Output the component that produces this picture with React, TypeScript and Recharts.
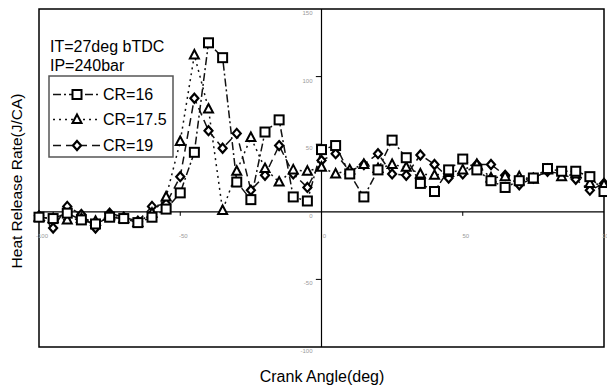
import React from "react";
import {
  LineChart,
  Line,
  XAxis,
  YAxis,
  ReferenceLine,
  ReferenceArea,
  ReferenceDot,
} from "recharts";

// crank angle (deg) and heat release rate (J/CA) per compression ratio
const crankAngle = [
  -100, -95, -90, -85, -80, -75, -70, -65, -60, -55, -50, -45, -40, -35, -30,
  -25, -20, -15, -10, -5, 0, 5, 10, 15, 20, 25, 30, 35, 40, 45, 50, 55, 60, 65,
  70, 75, 80, 85, 90, 95, 100,
];
const cr16 = [
  -4, -5, -1, -6, -9, -4, -5, -8, -4, 2, 14, 44, 125, 114, 22, 9, 59, 68, 11, 8,
  46, 49, 28, 11, 31, 53, 40, 21, 15, 31, 39, 31, 23, 18, 23, 25, 32, 30, 30,
  26, 15,
];
const cr175 = [
  -4, -5, -6, -5, -7, -3, -5, -8, -1, 11, 52, 116, 76, 1, 30, 55, 32, 22, 31,
  30, 33, 28, 31, 35, 32, 35, 33, 28, 27, 29, 31, 35, 25, 26, 26, 24, 31, 26,
  28, 21, 20,
];
const cr19 = [
  -3, -12, 4, -2, -12, -1, -4, -7, 4, 6, 26, 84, 60, 47, 58, 16, 27, 49, 28, 18,
  38, 43, 30, 35, 43, 28, 27, 42, 35, 25, 28, 35, 35, 27, 20, 25, 30, 28, 24,
  16, 21,
];
const xTicks = [-100, -50, 0, 50, 100];
const yTicks = [150, 100, 50, 0, -50, -100];

const data = crankAngle.map((x, i) => ({
  x,
  cr16: cr16[i],
  cr175: cr175[i],
  cr19: cr19[i],
}));

const FONT = "'Liberation Sans', Arial, sans-serif";
const INK = "#111";

const Square = ({ cx, cy }: { cx: number; cy: number }) => (
  <rect x={cx - 4.5} y={cy - 4.5} width={9} height={9} fill="#fff" stroke="#000" strokeWidth={2} />
);
const Triangle = ({ cx, cy }: { cx: number; cy: number }) => (
  <polygon
    points={`${cx},${cy - 5} ${cx + 4.5},${cy + 3.5} ${cx - 4.5},${cy + 3.5}`}
    fill="#fff"
    stroke="#000"
    strokeWidth={2}
  />
);
const Diamond = ({ cx, cy }: { cx: number; cy: number }) => (
  <polygon
    points={`${cx},${cy - 4.5} ${cx + 4},${cy} ${cx},${cy + 4.5} ${cx - 4},${cy}`}
    fill="#fff"
    stroke="#000"
    strokeWidth={2.2}
  />
);

const series = [
  { key: "cr19", name: "CR=19", dash: "8 5", Marker: Diamond },
  { key: "cr175", name: "CR=17.5", dash: "2 4", Marker: Triangle },
  { key: "cr16", name: "CR=16", dash: "8 3 2 3", Marker: Square },
];
const legendOrder = ["cr16", "cr175", "cr19"];

const tickText = { fontFamily: FONT, fontSize: 6, fill: "#9a9a9a" };

export default function App() {
  return (
    <div style={{ position: "absolute", left: 0, top: 0, width: 607, height: 388, background: "#fff" }}>
      <LineChart
        width={607}
        height={388}
        data={data}
        margin={{ top: 9, right: 3, bottom: 41, left: 39 }}
      >
        <XAxis type="number" dataKey="x" domain={[-100, 100]} hide />
        <YAxis type="number" domain={[-100, 150]} hide />
        <ReferenceArea
          x1={-100}
          x2={100}
          y1={-100}
          y2={150}
          fill="none"
          stroke="#000"
          strokeWidth={1.5}
          fillOpacity={0}
        />
        <ReferenceLine x={0} stroke="#000" strokeWidth={1.2} />
        <ReferenceLine y={0} stroke="#000" strokeWidth={1.2} />
        {[-50, 50].map((t) => (
          <ReferenceLine
            key={`xt${t}`}
            segment={[
              { x: t, y: 0 },
              { x: t, y: -3 },
            ]}
            stroke="#000"
          />
        ))}
        {[100, 50, -50].map((t) => (
          <ReferenceLine
            key={`yt${t}`}
            segment={[
              { x: -2, y: t },
              { x: 0, y: t },
            ]}
            stroke="#000"
          />
        ))}
        {xTicks.map((t) => (
          <ReferenceDot
            key={`xl${t}`}
            x={t}
            y={0}
            r={1}
            ifOverflow="visible"
            shape={(p: any) => (
              <text x={p.cx + 3} y={p.cy + 26} textAnchor="middle" {...tickText}>
                {t}
              </text>
            )}
          />
        ))}
        {yTicks.map((t) => (
          <ReferenceDot
            key={`yl${t}`}
            x={0}
            y={t}
            r={1}
            ifOverflow="visible"
            shape={(p: any) => (
              <text x={p.cx - 9} y={p.cy + 6} textAnchor="end" {...tickText}>
                {t}
              </text>
            )}
          />
        ))}
        {series.map((s) => (
          <Line
            key={s.key}
            type="linear"
            dataKey={s.key}
            name={s.name}
            stroke={INK}
            strokeWidth={1.5}
            strokeDasharray={s.dash}
            isAnimationActive={false}
            dot={(p: any) => <s.Marker key={`${s.key}${p.index}`} cx={p.cx} cy={p.cy} />}
          />
        ))}
      </LineChart>
      <svg
        width={607}
        height={388}
        style={{ position: "absolute", left: 0, top: 0, pointerEvents: "none" }}
      >
        <text x={50} y={52} fontFamily={FONT} fontSize={16} fill="#000">
          IT=27deg bTDC
        </text>
        <text x={50} y={71} fontFamily={FONT} fontSize={16} fill="#000">
          IP=240bar
        </text>
        <rect x={49} y={76} width={124} height={81} fill="#fff" stroke="#555" strokeWidth={1.5} />
        {legendOrder.map((k, i) => {
          const s = series.find((d) => d.key === k)!;
          const base = [100, 125, 151][i];
          const cy = base - 5.5;
          return (
            <g key={k}>
              <line x1={53} x2={100} y1={cy} y2={cy} stroke={INK} strokeWidth={1.5} strokeDasharray={s.dash} />
              <s.Marker cx={77} cy={cy} />
              <text x={103} y={base} fontFamily={FONT} fontSize={16} fill="#000">
                {s.name}
              </text>
            </g>
          );
        })}
        <text
          x={322}
          y={382}
          textAnchor="middle"
          fontFamily={FONT}
          fontSize={16}
          fill="#000"
        >
          Crank Angle(deg)
        </text>
        <text
          transform="translate(22,181) rotate(-90)"
          textAnchor="middle"
          fontFamily={FONT}
          fontSize={15.5}
          fill="#000"
        >
          Heat Release Rate(J/CA)
        </text>
      </svg>
    </div>
  );
}
